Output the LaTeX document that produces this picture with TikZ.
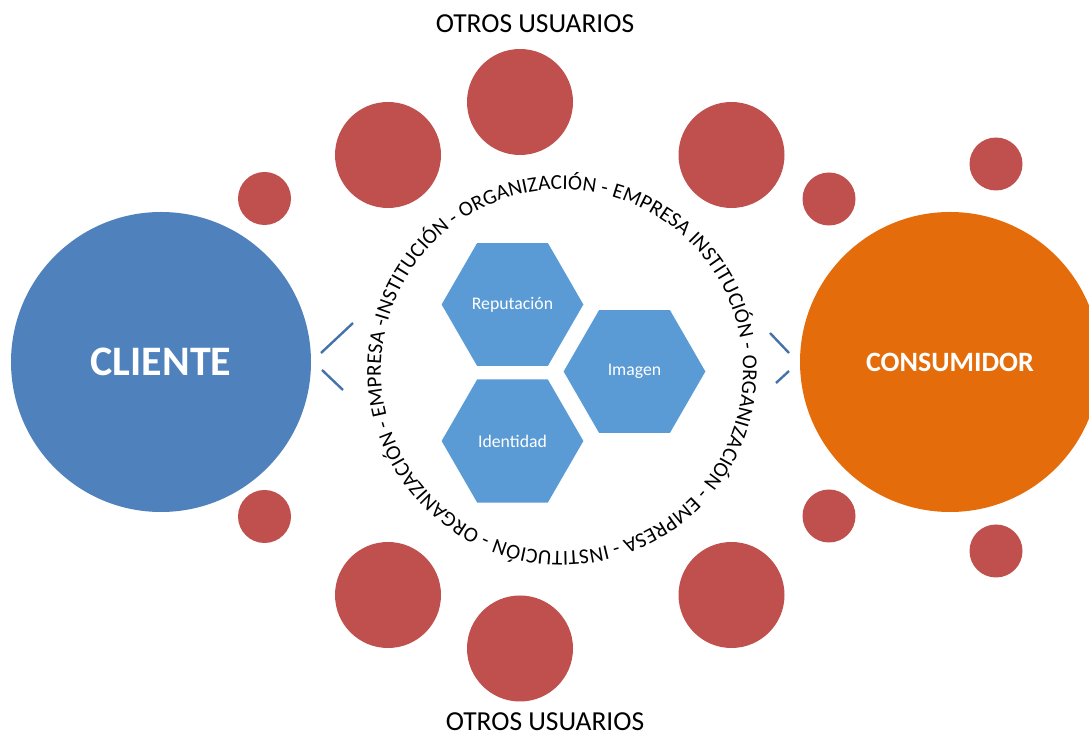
\documentclass[tikz,border=0pt]{standalone}
\usepackage{fontspec}
\setmainfont{Carlito}
\usetikzlibrary{shapes.geometric,decorations.text}
\definecolor{clientblue}{RGB}{79,129,189}
\definecolor{consorange}{RGB}{228,108,10}
\definecolor{userred}{RGB}{192,80,77}
\definecolor{hexblue}{RGB}{91,155,213}
\definecolor{markblue}{RGB}{68,114,170}
\begin{document}
\begin{tikzpicture}[x=0.75pt,y=0.75pt,
    bigdot/.style={circle,fill=userred,inner sep=0,minimum size=79.5pt},
    smalldot/.style={circle,fill=userred,inner sep=0,minimum size=39.75pt},
    hexa/.style={regular polygon,regular polygon sides=6,fill=hexblue,draw=white,
        line width=0.6pt,inner sep=0,minimum size=107.25pt,text=white,
        font=\fontsize{13.3}{14}\selectfont},
    markline/.style={markblue,line width=1.8pt}]
        \clip (0,0) rectangle (1089,735);

        % main circles
        \node[circle,fill=clientblue,inner sep=0,minimum size=225pt,text=white,
            font=\fontsize{31.5}{32}\selectfont\bfseries] (cliente) at (161,373) {CLIENTE};
        \node[circle,fill=consorange,inner sep=0,minimum size=225pt,text=white,
            font=\fontsize{21}{22}\selectfont\bfseries] (consumidor) at (950,373) {CONSUMIDOR};

        % other users
        \node[bigdot] (utop) at (520,633) {};
        \node[bigdot] (utopleft) at (388,580) {};
        \node[bigdot] (utopright) at (731.5,580) {};
        \node[bigdot] (ubot) at (520,86.5) {};
        \node[bigdot] (ubotleft) at (388,140) {};
        \node[bigdot] (ubotright) at (731.5,140) {};

        \node[smalldot] (cl1) at (264.5,536.5) {};
        \node[smalldot] (cl2) at (264.5,218.5) {};
        \node[smalldot] (co1) at (829,536) {};
        \node[smalldot] (co2) at (996,571) {};
        \node[smalldot] (co3) at (829,219) {};
        \node[smalldot] (co4) at (996,184) {};

        \node[anchor=base,font=\fontsize{20.6}{22}\selectfont] (toplabel) at (535,702) {OTROS USUARIOS};
        \node[anchor=base,font=\fontsize{20.6}{22}\selectfont] (botlabel) at (545,4) {OTROS USUARIOS};

        % hexagons
        \node[hexa] (reputacion) at (512.5,430.5) {Reputación};
        \node[hexa] (imagen) at (634.5,363.5) {Imagen};
        \node[hexa] (identidad) at (512.5,294) {Identidad};

        % ring of text
        \coordinate (ring) at (562,364.5);
        \path[decorate,decoration={text along path,text align=fit to path,
            text={|\fontsize{15.9}{16}\selectfont|INSTITUCIÓN - ORGANIZACIÓN - EMPRESA -INSTITUCIÓN - ORGANIZACIÓN - EMPRESA INSTITUCIÓN - ORGANIZACIÓN - EMPRESA -}}]
            (ring) ++(-75.6:135.75pt) arc[start angle=-75.6,end angle=-434,radius=135.75pt];

        % marks
        \coordinate (la) at (321,382);
        \coordinate (lb) at (353,412);
        \coordinate (lc) at (322,365);
        \coordinate (ld) at (343,345);
        \draw[markline] (la) -- (lb);
        \draw[markline] (lc) -- (ld);
        \coordinate (ra) at (770,402);
        \coordinate (rb) at (789,382);
        \coordinate (rc) at (789,364);
        \coordinate (rd) at (776,352);
        \draw[markline] (ra) -- (rb);
        \draw[markline] (rc) -- (rd);

    \end{tikzpicture}
\end{document}
